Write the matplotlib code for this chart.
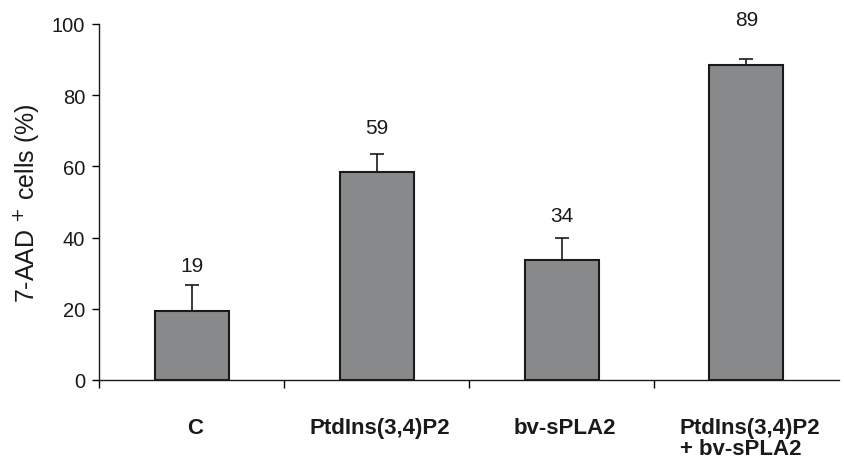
import matplotlib
matplotlib.use("Agg")
import matplotlib.pyplot as plt
from matplotlib.transforms import blended_transform_factory

categories = ["C", "PtdIns(3,4)P2", "bv-sPLA2", "PtdIns(3,4)P2\n+ bv-sPLA2"]
values = [19.5, 58.4, 33.8, 88.6]
errors = [7.3, 5.1, 6.1, 1.6]
labels = ["19", "59", "34", "89"]

plt.rcParams['font.family'] = ['Liberation Sans', 'DejaVu Sans']

fig = plt.figure(figsize=(8.44, 4.64), dpi=100)
ax = fig.add_axes([99/844, 1-381/464, 740/844, 356/464])

x = list(range(len(categories)))
ax.bar(x, values, width=0.4, color="#88898b", edgecolor="#1a1a1a", linewidth=1.5, zorder=2)
ax.errorbar(x, values, yerr=[[0]*len(errors), errors], fmt="none", ecolor="#1a1a1a",
            elinewidth=1.2, capsize=5, capthick=1.2, zorder=1)

for xi, v, lab in zip(x, values, labels):
    ax.text(xi, v + 11, lab, ha="center", va="baseline", fontsize=15, color="#1a1a1a",
            clip_on=False)

ax.set_xlim(-0.5, 3.5)
ax.set_ylim(0, 100)
ax.set_yticks([0, 20, 40, 60, 80, 100])
ax.tick_params(axis="y", labelsize=14.5, length=5, width=1, direction="out", pad=5,
               labelcolor="#1a1a1a")
ax.set_xticks([-0.5, 0.5, 1.5, 2.5])
ax.set_xticklabels([])
ax.tick_params(axis="x", length=6, width=1, direction="out")

for s in ["top", "right"]:
    ax.spines[s].set_visible(False)
ax.spines["left"].set_linewidth(1)
ax.spines["bottom"].set_linewidth(1)
ax.spines["left"].set_color("#1a1a1a")
ax.spines["bottom"].set_color("#1a1a1a")

trans = blended_transform_factory(ax.transData, ax.transAxes)
for xi, cat in zip(x, categories):
    ax.text(xi + 0.02, -0.105, cat, transform=trans, ha="center", va="top",
            fontsize=16, fontweight="bold", multialignment="left", linespacing=1.0,
            color="#1a1a1a")

ax.set_ylabel("7-AAD $^{+}$ cells (%)", fontsize=18, labelpad=8, color="#1a1a1a")

fig.savefig("out.png", dpi=100)
